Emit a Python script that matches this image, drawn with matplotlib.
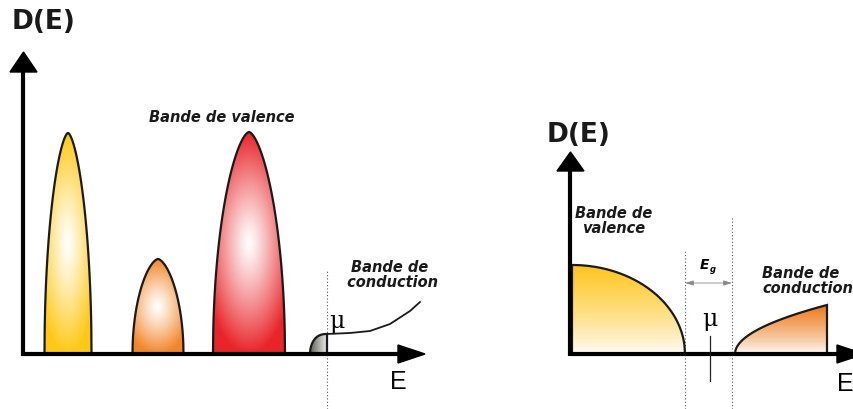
import numpy as np
import matplotlib.pyplot as plt
from matplotlib.patches import Polygon
from matplotlib.colors import to_rgb

plt.rcParams['font.family'] = ['Liberation Sans', 'DejaVu Sans']

# --- left panel: metal, three valence bands + conduction band (pixel-like units)
band_E = [68, 158, 249]          # band centres
band_half_w = [23.5, 25.5, 36]   # half widths
band_D = [221, 95, 222]          # peak heights
band_colors = ['#FFC816', '#F2862A', '#E8252A']

cond_E = [327, 350, 370, 390, 410, 420]
cond_D = [20, 21, 23, 30, 43, 52]

# --- right panel: semiconductor
val_E_top, val_E_edge, val_D = 572, 685, 89
cb_E_edge, cb_E_top, cb_D = 735, 827, 49
gap_E = [685, 732]
mu_E = 710

W, H = 854, 410
fig = plt.figure(figsize=(W / 100, H / 100), dpi=100)
ax = fig.add_axes([0, 0, 1, 1])
ax.set_xlim(0, W)
ax.set_ylim(0, H)
ax.axis('off')

y0 = 55  # baseline
wide = ['DejaVu Sans']


def grad_fill(xs, ys, rgba_fn, z=2):
    verts = np.column_stack([xs, ys])
    poly = Polygon(verts, closed=True, facecolor='none', edgecolor='#1a1a1a',
                   lw=1.6, zorder=z + 1)
    ax.add_patch(poly)
    clip = Polygon(verts, closed=True, transform=ax.transData)
    x1, x2, yb, yt = xs.min(), xs.max(), ys.min(), ys.max()
    gx, gy = np.meshgrid(np.linspace(x1, x2, 200), np.linspace(yb, yt, 300))
    img = rgba_fn(gx, gy)
    im = ax.imshow(img, extent=[x1, x2, yb, yt], origin='lower', aspect='auto',
                   zorder=z, interpolation='bilinear')
    im.set_clip_path(clip)


def radial(cx, cy, rx, ry, color):
    c = np.array(to_rgb(color))

    def fn(gx, gy):
        t = np.sqrt(((gx - cx) / rx) ** 2 + ((gy - cy) / ry) ** 2)
        t = np.clip(t, 0, 1) ** 1.15
        return np.ones(gx.shape + (3,)) * (1 - t[..., None]) + c * t[..., None]
    return fn


def vertical(ybot, ytop, color, low=0.97):
    c = np.array(to_rgb(color))

    def fn(gx, gy):
        t = np.clip((gy - ybot) / (ytop - ybot), 0, 1)[..., None] ** 0.8
        base = np.ones(3) * low
        return base * (1 - t) + c * t
    return fn


# valence bands (left)
for E, hw, D, col in zip(band_E, band_half_w, band_D, band_colors):
    u = np.linspace(-1, 1, 301)
    prof = D * (1 - np.abs(u) ** 1.6) ** 0.5
    xs = E + hw * u
    ys = y0 + prof
    grad_fill(xs, ys, radial(E, y0 + D * 0.5, hw * 1.3, D * 0.5, col))

# small occupied part of the conduction band
u = np.linspace(0, 1, 60)
xs = np.concatenate([[310], 310 + 17 * u, [327]])
ys = np.concatenate([[y0], y0 + cond_D[0] * np.sqrt(1 - (1 - u) ** 2.5), [y0]])
gray = lambda gx, gy: (np.array(to_rgb('#5f6156')) * (1 - ((gx - 310) / 17)[..., None])
                       + np.array(to_rgb('#ececec')) * ((gx - 310) / 17)[..., None])
grad_fill(xs, ys, gray)
ax.plot(cond_E, np.array(cond_D) + y0, color='#1a1a1a', lw=1.3, zorder=4)

# axes left
ax.plot([23.5, 23.5], [y0 - 2, 410 - 73], color='black', lw=3, zorder=5,
        solid_capstyle='butt')
ax.add_patch(Polygon([[10, 410 - 73], [37, 410 - 73], [23.5, 410 - 53]],
                     color='black', zorder=5))
ax.plot([22, 398], [y0, y0], color='black', lw=3, zorder=5, solid_capstyle='butt')
ax.add_patch(Polygon([[398, y0 + 9], [398, y0 - 9], [425, y0]],
                     color='black', zorder=5))
ax.plot([327, 327], [0, 410 - 270], color='#555555', lw=0.8, ls=(0, (1, 2)),
        zorder=1)

ax.text(12, 410 - 22, 'D(E)', fontsize=19, fontweight='bold', va='center',
        ha='left', family=wide, color='#1a1a1a')
ax.text(398, 410 - 382, 'E', fontsize=18, va='center', ha='center')
ax.text(222, 410 - 118, 'Bande de valence', fontsize=10.5, fontweight='bold',
        style='italic', ha='center', va='center', family=wide, color='#1a1a1a')
ax.text(390, 410 - 275, 'Bande de\n conduction', fontsize=10.5, fontweight='bold',
        style='italic', ha='center', va='center', linespacing=1.0, family=wide,
        color='#1a1a1a')
ax.text(337, 410 - 322, 'μ', fontsize=17, ha='center', va='center',
        family=['DejaVu Serif'])

# right panel: valence band
xv = np.linspace(val_E_top, val_E_edge, 200)
yv = y0 + val_D * np.sqrt(np.clip(1 - ((xv - val_E_top) / (val_E_edge - val_E_top)) ** 2, 0, 1))
xs = np.concatenate([[val_E_top], xv])
ys = np.concatenate([[y0], yv])
grad_fill(xs, ys, vertical(y0, y0 + val_D, '#FFC51E', low=0.995))

# conduction band
xc = np.linspace(cb_E_edge, cb_E_top, 200)
yc = y0 + cb_D * np.sqrt((xc - cb_E_edge) / (cb_E_top - cb_E_edge))
xs = np.concatenate([xc, [cb_E_top]])
ys = np.concatenate([yc, [y0]])
grad_fill(xs, ys, vertical(y0, y0 + cb_D, '#EE7A1C', low=0.995))

# axes right
ax.plot([570.5, 570.5], [y0 - 2, 410 - 172], color='black', lw=3, zorder=5,
        solid_capstyle='butt')
ax.add_patch(Polygon([[557, 410 - 172], [584, 410 - 172], [570.5, 410 - 153]],
                     color='black', zorder=5))
ax.plot([570, 837], [y0, y0], color='black', lw=3, zorder=5, solid_capstyle='butt')
ax.add_patch(Polygon([[837, y0 + 9], [837, y0 - 9], [864, y0]],
                     color='black', zorder=5))

ax.plot([gap_E[0], gap_E[0]], [0, 410 - 252], color='#555555', lw=0.8,
        ls=(0, (1, 2)), zorder=1)
ax.plot([gap_E[1], gap_E[1]], [0, 410 - 217], color='#555555', lw=0.8,
        ls=(0, (1, 2)), zorder=1)
ax.annotate('', xy=(gap_E[0], 410 - 284), xytext=(gap_E[1], 410 - 284),
            arrowprops=dict(arrowstyle='<|-|>,head_length=0.5,head_width=0.15',
                            color='#888888', lw=0.6, shrinkA=0, shrinkB=0))
ax.text(704, 410 - 265, 'E', fontsize=10, fontweight='bold', style='italic',
        ha='center', va='center', family=wide)
ax.text(712.5, 410 - 270, 'g', fontsize=6, fontweight='bold', style='italic',
        ha='center', va='center', family=wide)
ax.plot([mu_E, mu_E], [410 - 382, 410 - 337], color='#222222', lw=0.9, zorder=5)
ax.text(mu_E, 410 - 320, 'μ', fontsize=17, ha='center', va='center',
        family=['DejaVu Serif'])

ax.text(547, 410 - 135, 'D(E)', fontsize=19, fontweight='bold', va='center',
        ha='left', family=wide, color='#1a1a1a')
ax.text(845, 410 - 384, 'E', fontsize=18, va='center', ha='center')
ax.text(614, 410 - 221, 'Bande de\nvalence', fontsize=10.5, fontweight='bold',
        style='italic', ha='center', va='center', linespacing=1.0, family=wide,
        color='#1a1a1a')
ax.text(762, 410 - 281, 'Bande de\nconduction', fontsize=10.5, fontweight='bold',
        style='italic', ha='left', va='center', linespacing=1.0, family=wide,
        color='#1a1a1a')

fig.savefig('out.png', dpi=100)
